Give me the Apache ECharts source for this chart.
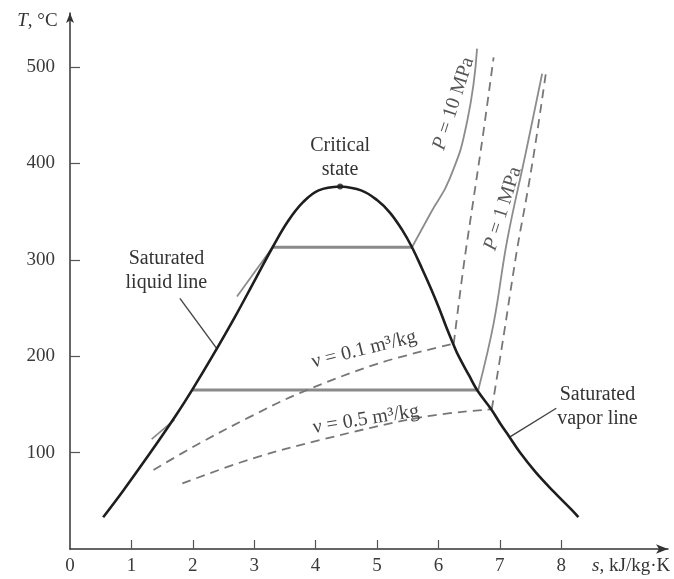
<!DOCTYPE html>
<html><head><meta charset="utf-8">
<script src="https://cdn.jsdelivr.net/npm/echarts@6/dist/echarts.min.js"></script>
<style>html,body{margin:0;padding:0;background:#fff}#c{width:674px;height:579px}</style>
</head><body><div id="c"></div>
<script>
// ---- data (s in kJ/kg·K, T in °C) ----
const xTickValues = [1, 2, 3, 4, 5, 6, 7, 8];
const xLabelValues = [0, 1, 2, 3, 4, 5, 6, 7, 8];
const yTickValues = [100, 200, 300, 400, 500];
const satLiquid = [[0.54,33],[0.86,60],[1.31,100],[1.74,140],[1.99,165],[2.32,200],[2.68,240],[3.02,280],[3.30,313],[3.55,340],[3.80,360],[4.05,372],[4.40,376]];
const satVapor = [[4.40,376],[4.74,372],[5.00,362],[5.21,349],[5.41,331],[5.57,313],[5.74,290],[5.88,270],[6.01,250],[6.13,230],[6.24,213],[6.33,200],[6.50,180],[6.63,165],[6.86,145],[7.01,130],[7.16,116],[7.33,100],[7.58,80],[7.87,60],[8.18,40],[8.28,33]];
const criticalPoint = [[4.40,376]];
const p10Liquid = [[2.72,262],[3.30,313]];
const p10Sat = [[3.30,313],[5.57,313]];
const p10Vapor = [[5.57,313],[5.87,348],[6.19,385],[6.47,444],[6.63,519]];
const p1Liquid = [[1.33,114],[1.70,134]];
const p1Sat = [[1.99,165],[6.65,165]];
const p1Vapor = [[6.65,165],[6.90,234],[7.12,320],[7.42,410],[7.69,493]];
const v01Wet = [[1.36,82],[2.12,110],[2.93,137],[3.75,162],[5.05,193],[6.25,213]];
const v01Dry = [[6.25,213],[6.41,293],[6.57,362],[6.73,431],[6.90,510]];
const v05Wet = [[1.83,68],[2.93,93],[4.07,113],[5.75,137],[6.87,145]];
const v05Dry = [[6.87,145],[7.06,220],[7.28,310],[7.45,370],[7.58,420],[7.75,493]];
const liquidLeader = [[1.79,260],[2.40,207]];
const vaporLeader = [[7.92,146],[7.16,116]];

const SERIF = 'Liberation Serif';
function line(data, color, width, opts) {
  return Object.assign({
    type: 'line', data: data, symbol: 'none', smooth: false, silent: true,
    lineStyle: { color: color, width: width }, z: 2
  }, opts || {});
}
function dashed(data) {
  return line(data, '#777', 1.8, { smooth: 0.35, lineStyle: { color: '#777', width: 1.8, type: [9, 6] } });
}
const option = {
  animation: false,
  backgroundColor: '#fff',
  grid: { left: 70, right: 6, top: 13, bottom: 30, containLabel: false },
  xAxis: {
    type: 'value', min: 0, max: 9.74,
    axisLine: { show: true, symbol: ['none', 'arrow'], symbolSize: [7, 12], lineStyle: { color: '#333', width: 1.5 } },
    axisTick: { show: true, inside: true, length: 9, customValues: xTickValues, lineStyle: { color: '#555', width: 1.2 } },
    axisLabel: { customValues: xLabelValues, margin: 8, color: '#3a3a3a', fontFamily: SERIF, fontSize: 19 },
    splitLine: { show: false }
  },
  yAxis: {
    type: 'value', min: 0, max: 556,
    axisLine: { show: true, symbol: ['none', 'arrow'], symbolSize: [6, 10], lineStyle: { color: '#333', width: 1.5 } },
    axisTick: { show: true, inside: true, length: 10, customValues: yTickValues, lineStyle: { color: '#555', width: 1.2 } },
    axisLabel: { customValues: yTickValues, margin: 15, color: '#3a3a3a', fontFamily: SERIF, fontSize: 19 },
    splitLine: { show: false }
  },
  series: [
    line(satLiquid, '#1e1e1e', 2.6, { smooth: 0.4, z: 5 }),
    line(satVapor, '#1e1e1e', 2.6, { smooth: 0.4, z: 5 }),
    line(p10Liquid, '#8c8c8c', 1.8),
    line(p10Sat, '#8a8a8a', 3),
    line(p10Vapor, '#8c8c8c', 1.8, { smooth: 0.5 }),
    line(p1Liquid, '#8c8c8c', 1.8),
    line(p1Sat, '#8a8a8a', 3),
    line(p1Vapor, '#8c8c8c', 1.8, { smooth: 0.4 }),
    dashed(v01Wet),
    dashed(v01Dry),
    dashed(v05Wet),
    dashed(v05Dry),
    line(liquidLeader, '#444', 1.4),
    line(vaporLeader, '#444', 1.4),
    { type: 'scatter', data: criticalPoint, symbol: 'circle', symbolSize: 6, itemStyle: { color: '#1e1e1e' }, z: 6, silent: true }
  ]
};
const chart = echarts.init(document.getElementById('c'), null, { renderer: 'canvas' });
chart.setOption(option);

const deg = Math.PI / 180;
function richItalic(size, color) {
  return { i: { fontStyle: 'italic', fontFamily: SERIF, fontSize: size, fill: color, color: color },
           n: { fontFamily: SERIF, fontSize: size, fill: color, color: color } };
}
const annotations = [
  { at: [4.40, 406], text: '{n|Critical}\n{n|state}', size: 20, color: '#333', rot: 0, lh: 24 },
  { at: [1.57, 289], text: '{n|Saturated}\n{n|liquid line}', size: 20, color: '#333', rot: 0, lh: 24 },
  { at: [8.59, 148], text: '{n|Saturated}\n{n|vapor line}', size: 20, color: '#333', rot: 0, lh: 24 },
  { at: [6.25, 462], text: '{i|P} {n|= 10 MPa}', size: 20, color: '#555', rot: 72, lh: 22 },
  { at: [7.05, 353], text: '{i|P} {n|= 1 MPa}', size: 20, color: '#555', rot: 72.5, lh: 22 },
  { at: [4.79, 207], text: '{n|ν = 0.1 m³/kg}', size: 20, color: '#444', rot: 14, lh: 22 },
  { at: [4.82, 134.5], text: '{n|ν = 0.5 m³/kg}', size: 20, color: '#444', rot: 9, lh: 22 },
  { at: [-0.53, 548], text: '{i|T}{n|, °C}', size: 19, color: '#333', rot: 0, lh: 22 },
  { at: [9.14, -18], text: '{i|s}{n|, kJ/kg·K}', size: 19, color: '#333', rot: 0, lh: 22 }
];
const graphics = annotations.map(function (a) {
  const p = chart.convertToPixel({ gridIndex: 0 }, a.at);
  return {
    type: 'text', x: p[0], y: p[1], rotation: a.rot * deg, z: 10, silent: true,
    style: {
      text: a.text, rich: richItalic(a.size, a.color), fontFamily: SERIF, fontSize: a.size,
      fill: a.color, align: 'center', verticalAlign: 'middle', lineHeight: a.lh
    }
  };
});
chart.setOption({ graphic: graphics });
</script></body></html>
